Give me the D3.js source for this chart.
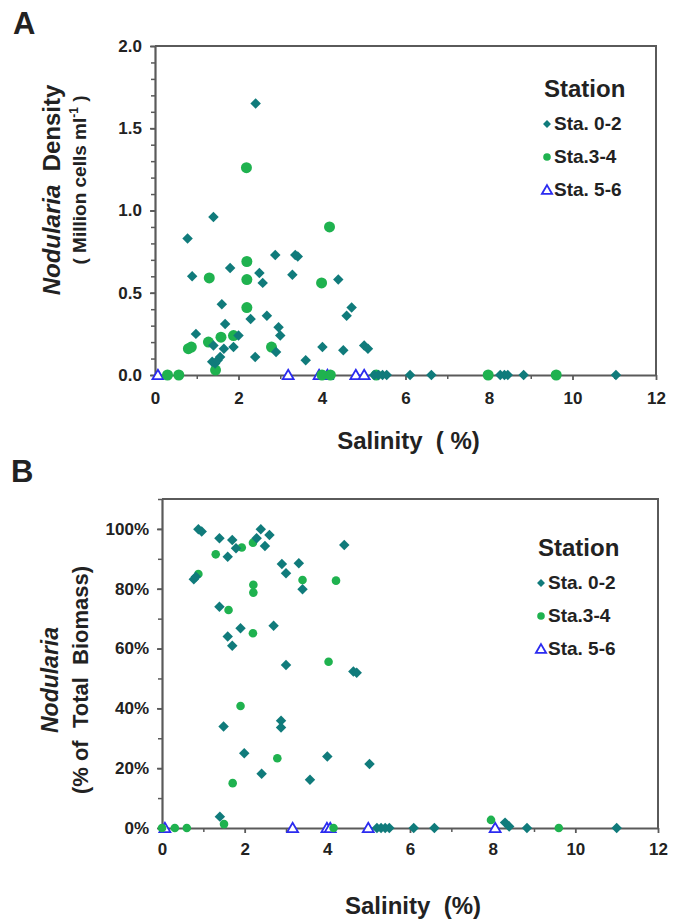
<!DOCTYPE html>
<html>
<head>
<meta charset="utf-8">
<script src="https://cdn.jsdelivr.net/npm/d3@7/dist/d3.min.js"></script>
<style>
  html, body { margin: 0; padding: 0; background: #fff; }
  svg { display: block; }
  text { font-family: "Liberation Sans", Arial, Helvetica, sans-serif; font-weight: bold; fill: #222; }
</style>
</head>
<body>
<svg id="chart" width="673" height="919"></svg>
<script>
// ---- Panel A: Nodularia density (million cells per ml) vs salinity ----
const densitySta02 = [
  [2.41,1.65],[1.40,0.96],[0.78,0.83],[0.89,0.60],[1.80,0.65],[2.88,0.73],[3.29,0.61],
  [3.36,0.73],[3.42,0.72],[2.50,0.62],[2.58,0.56],[1.60,0.43],[2.29,0.34],[2.68,0.36],
  [1.68,0.31],[2.96,0.29],[3.00,0.24],[0.98,0.25],[2.00,0.24],[1.40,0.18],[1.88,0.17],
  [1.65,0.16],[1.56,0.11],[1.44,0.07],[1.37,0.08],[1.50,0.09],[2.40,0.11],[2.90,0.14],
  [3.61,0.09],[4.01,0.17],[4.39,0.58],[4.71,0.41],[4.59,0.36],[4.51,0.15],[5.01,0.18],
  [5.10,0.16],[5.25,0],[5.35,0],[5.45,0],[5.55,0],[6.11,0],[6.62,0],[8.27,0],[8.37,0],
  [8.45,0],[8.83,0],[11.04,0]
];
const densitySta34 = [
  [2.19,1.26],[4.18,0.90],[2.20,0.69],[1.30,0.59],[2.20,0.58],[3.99,0.56],[2.20,0.41],
  [1.88,0.24],[1.58,0.23],[1.28,0.20],[0.80,0.16],[0.87,0.17],[2.79,0.17],[1.45,0.03],
  [0.30,0],[0.57,0],[4.00,0],[4.20,0],[5.30,0],[7.98,0],[9.61,0]
];
const densitySta56 = [
  [0.07,0],[3.19,0],[3.93,0],[4.13,0],[4.81,0],[5.01,0]
];

// ---- Panel B: Nodularia share of total biomass (%) vs salinity ----
const biomassSta02 = [
  [0.88,99.9],[0.96,99.1],[0.77,83.2],[0.82,84.0],[1.39,96.9],[1.70,96.3],[1.79,93.5],
  [1.59,90.7],[2.39,99.9],[2.60,98.0],[2.29,96.9],[2.49,94.3],[2.90,88.3],[3.00,85.2],
  [3.31,88.5],[3.40,79.8],[4.41,94.6],[1.39,74.0],[1.90,66.8],[2.70,67.6],[1.59,64.0],
  [1.70,60.9],[3.00,54.5],[4.63,52.3],[4.71,51.9],[1.49,33.9],[1.99,25.0],[2.88,35.9],
  [2.88,33.6],[2.41,18.1],[3.58,16.1],[4.00,23.9],[5.02,21.4],[1.40,3.8],[8.30,1.8],
  [8.40,0.5],[5.20,0],[5.30,0],[5.40,0],[5.50,0],[6.09,0],[6.59,0],[8.83,0],[11.00,0]
];
const biomassSta34 = [
  [1.30,91.5],[0.88,84.9],[1.93,93.8],[2.20,95.4],[2.21,81.3],[2.21,78.7],[1.61,72.9],
  [2.20,65.1],[3.40,82.9],[4.21,82.7],[4.03,55.6],[1.90,40.8],[2.79,23.3],[1.71,15.0],
  [1.50,1.3],[7.96,2.7],[0.00,0],[0.31,0],[0.60,0],[4.15,0],[9.60,0]
];
const biomassSta56 = [
  [0.07,0],[3.16,0],[3.99,0],[4.07,0],[4.99,0],[8.06,0]
];

// ---- Axis ticks and legend labels ----
const salinityTicks = [0, 2, 4, 6, 8, 10, 12];
const salinityMinor = [1, 3, 5, 7, 9, 11];
const densityTicks = [0, 0.5, 1.0, 1.5, 2.0];
const biomassTicks = [0, 20, 40, 60, 80, 100];
const stationNames = ["Sta. 0-2", "Sta.3-4", "Sta. 5-6"];

const colTeal = "#107b7b";
const colGreen = "#1fb24f";
const colBlue = "#2b2bf0";
const axisCol = "#5a5a5a";

const svg = d3.select("#chart");

function drawMarker(g, kind, x, y, s) {
  if (kind === "diamond") {
    g.append("path")
      .attr("d", d3.symbol().type(d3.symbolDiamond2).size(s.diamond)())
      .attr("transform", `translate(${x},${y})`)
      .attr("fill", colTeal);
  } else if (kind === "circle") {
    g.append("circle").attr("cx", x).attr("cy", y).attr("r", s.circle).attr("fill", colGreen);
  } else {
    g.append("path")
      .attr("d", d3.symbol().type(d3.symbolTriangle2).size(s.triangle)())
      .attr("transform", `translate(${x},${y + 1})`)
      .attr("fill", "#fff").attr("stroke", colBlue).attr("stroke-width", 1.8);
  }
}

function panel(cfg) {
  const g = svg.append("g");
  const x = d3.scaleLinear().domain([0, 12]).range(cfg.xRange);
  const y = d3.scaleLinear().domain(cfg.yDomain).range(cfg.yRange);

  // frame: top and right sides
  g.append("path")
    .attr("d", `M${cfg.xRange[0]},${y(cfg.yDomain[1])}H${cfg.xRange[1]}V${cfg.yRange[0]}`)
    .attr("fill", "none").attr("stroke", axisCol).attr("stroke-width", 2);

  // y axis with minor ticks
  const yMinor = g.append("g").attr("transform", `translate(${cfg.xRange[0]},0)`)
    .call(d3.axisLeft(y).tickValues(cfg.yMinor).tickSize(4).tickFormat(""));
  yMinor.select(".domain").remove();
  yMinor.selectAll("line").attr("stroke", axisCol).attr("stroke-width", 1.5);

  const yAx = g.append("g").attr("transform", `translate(${cfg.xRange[0]},0)`)
    .call(d3.axisLeft(y).tickValues(cfg.yTicks).tickSize(5).tickSizeOuter(0).tickPadding(8).tickFormat(cfg.yFormat));
  yAx.select(".domain").attr("stroke", axisCol).attr("stroke-width", 2.2);
  yAx.selectAll("line").attr("stroke", axisCol).attr("stroke-width", 1.8);
  yAx.selectAll("text").attr("font-size", cfg.tickFont).attr("font-family", "Liberation Sans, Arial, sans-serif")
    .attr("font-weight", "bold").attr("fill", "#222");

  // x axis with minor ticks
  const xMinor = g.append("g").attr("transform", `translate(0,${cfg.yRange[0]})`)
    .call(d3.axisBottom(x).tickValues(salinityMinor).tickSize(4).tickFormat(""));
  xMinor.select(".domain").remove();
  xMinor.selectAll("line").attr("stroke", axisCol).attr("stroke-width", 1.5);

  const xAx = g.append("g").attr("transform", `translate(0,${cfg.yRange[0]})`)
    .call(d3.axisBottom(x).tickValues(salinityTicks).tickSize(5).tickSizeOuter(0).tickPadding(cfg.xPad));
  xAx.select(".domain").attr("stroke", axisCol).attr("stroke-width", 2.2);
  xAx.selectAll("line").attr("stroke", axisCol).attr("stroke-width", 1.8);
  xAx.selectAll("text").attr("font-size", cfg.tickFont).attr("font-family", "Liberation Sans, Arial, sans-serif")
    .attr("font-weight", "bold").attr("fill", "#222");

  // points
  const pts = g.append("g");
  cfg.sta56.forEach(d => drawMarker(pts, "triangle", x(d[0]), y(d[1]), cfg.sizes));
  cfg.sta34.forEach(d => drawMarker(pts, "circle", x(d[0]), y(d[1]), cfg.sizes));
  cfg.sta02.forEach(d => drawMarker(pts, "diamond", x(d[0]), y(d[1]), cfg.sizes));

  // legend
  const lg = g.append("g");
  lg.append("text").attr("x", cfg.legend.x - 3).attr("y", cfg.legend.y)
    .attr("font-size", 24).text("Station");
  const kinds = ["diamond", "circle", "triangle"];
  const legSizes = { diamond: 40, circle: 3.8, triangle: 75 };
  kinds.forEach((k, i) => {
    const yy = cfg.legend.y + cfg.legend.gap * (i + 1);
    drawMarker(lg, k, cfg.legend.x, yy - 6, legSizes);
    lg.append("text").attr("x", cfg.legend.x + 7).attr("y", yy)
      .attr("font-size", 19).text(stationNames[i]);
  });

  // panel letter
  g.append("text").attr("x", cfg.letter[0]).attr("y", cfg.letter[1])
    .attr("font-size", 31).text(cfg.letterText);

  // x title
  g.append("text").attr("x", (cfg.xRange[0] + cfg.xRange[1]) / 2 + 3).attr("y", cfg.xTitleY)
    .attr("text-anchor", "middle").attr("font-size", 24).attr("xml:space", "preserve")
    .text(cfg.xTitle);

  return g;
}

// Panel A
const gA = panel({
  xRange: [155, 656], yRange: [375, 46], yDomain: [0, 2],
  yTicks: densityTicks, yMinor: d3.range(0, 2.01, 0.1).map(v => +v.toFixed(1)),
  yFormat: d3.format(".1f"), tickFont: 17, xPad: 12,
  sta02: densitySta02, sta34: densitySta34, sta56: densitySta56,
  sizes: { diamond: 70, circle: 5.5, triangle: 85 },
  legend: { x: 547, y: 97, gap: 33 },
  letter: [13, 34], letterText: "A",
  xTitleY: 449, xTitle: "Salinity  ( %)"
});
const tA = gA.append("text").attr("transform", "translate(60,190) rotate(-90)")
  .attr("text-anchor", "middle").attr("font-size", 24).attr("xml:space", "preserve");
tA.append("tspan").attr("font-style", "italic").text("Nodularia");
tA.append("tspan").text("  Density");
const tA2 = gA.append("text").attr("transform", "translate(86,180) rotate(-90)")
  .attr("text-anchor", "middle").attr("font-size", 19).attr("xml:space", "preserve");
tA2.append("tspan").text("( Million cells ml");
tA2.append("tspan").attr("font-size", 12).attr("dy", -8).text("-1");
tA2.append("tspan").attr("dy", 8).text(" )");

// Panel B
const gB = panel({
  xRange: [162, 658], yRange: [828, 499], yDomain: [0, 110],
  yTicks: biomassTicks, yMinor: d3.range(0, 111, 10),
  yFormat: d => d + "%", tickFont: 17, xPad: 10,
  sta02: biomassSta02, sta34: biomassSta34, sta56: biomassSta56,
  sizes: { diamond: 70, circle: 4.3, triangle: 85 },
  legend: { x: 541, y: 556, gap: 33 },
  letter: [11, 482], letterText: "B",
  xTitleY: 914, xTitle: "Salinity  (%)"
});
gB.append("text").attr("transform", "translate(58,680) rotate(-90)")
  .attr("text-anchor", "middle").attr("font-size", 23).attr("font-style", "italic")
  .text("Nodularia");
gB.append("text").attr("transform", "translate(88,680) rotate(-90)")
  .attr("text-anchor", "middle").attr("font-size", 22).attr("xml:space", "preserve")
  .text("(% of  Total  Biomass)");
</script>
</body>
</html>
